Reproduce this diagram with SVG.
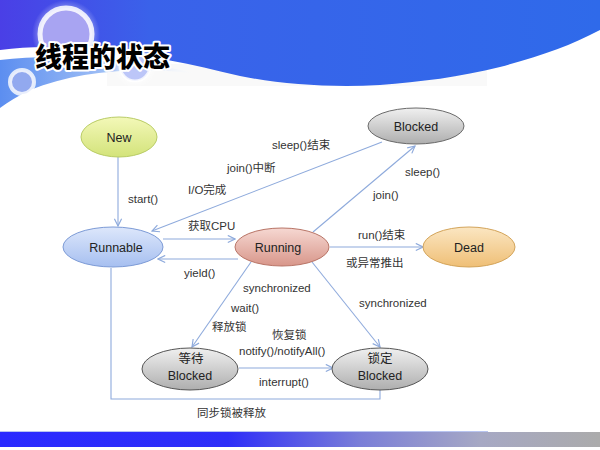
<svg xmlns="http://www.w3.org/2000/svg" width="600" height="450" viewBox="0 0 600 450">
  <defs>
    <linearGradient id="gNew" x1="0" y1="0" x2="0" y2="1">
      <stop offset="0" stop-color="#f3f8b8"/>
      <stop offset="1" stop-color="#d3e37a"/>
    </linearGradient>
    <linearGradient id="gGray" x1="0" y1="0" x2="0" y2="1">
      <stop offset="0" stop-color="#f0f0f0"/>
      <stop offset="1" stop-color="#aeaeae"/>
    </linearGradient>
    <linearGradient id="gRunnable" x1="0" y1="0" x2="0" y2="1">
      <stop offset="0" stop-color="#dde7fb"/>
      <stop offset="1" stop-color="#a6bff0"/>
    </linearGradient>
    <linearGradient id="gRunning" x1="0" y1="0" x2="0" y2="1">
      <stop offset="0" stop-color="#f6d8d2"/>
      <stop offset="1" stop-color="#d8968a"/>
    </linearGradient>
    <linearGradient id="gDead" x1="0" y1="0" x2="0" y2="1">
      <stop offset="0" stop-color="#fbe6c2"/>
      <stop offset="1" stop-color="#efbf76"/>
    </linearGradient>
    <linearGradient id="gFooter" x1="0" y1="0" x2="1" y2="0">
      <stop offset="0" stop-color="#2a2aff"/>
      <stop offset="0.38" stop-color="#2e2ef8"/>
      <stop offset="0.6" stop-color="#7a7ed8"/>
      <stop offset="0.8" stop-color="#a6a8c4"/>
      <stop offset="1" stop-color="#ababab"/>
    </linearGradient>
    <linearGradient id="gBand" x1="0" y1="0" x2="1" y2="0">
      <stop offset="0" stop-color="#4a3fe6"/>
      <stop offset="0.25" stop-color="#3a62ea"/>
      <stop offset="1" stop-color="#2f6aea"/>
    </linearGradient>
    <linearGradient id="gSwoosh" x1="0" y1="0" x2="1" y2="0">
      <stop offset="0" stop-color="#5c8ef0"/>
      <stop offset="0.6" stop-color="#a9c6f6"/>
      <stop offset="1" stop-color="#ffffff" stop-opacity="0"/>
    </linearGradient>
    <radialGradient id="gGlow">
      <stop offset="0.6" stop-color="#ffffff" stop-opacity="0.9"/>
      <stop offset="1" stop-color="#ffffff" stop-opacity="0"/>
    </radialGradient>
    <marker id="arrow" viewBox="0 0 10 10" refX="9" refY="5" markerWidth="9" markerHeight="9" markerUnits="userSpaceOnUse" orient="auto">
      <path d="M1,1 L9,5 L1,9" fill="none" stroke="#8eaadc" stroke-width="1.3"/>
    </marker>
    <style>
      .lbl { font-family: "Liberation Sans", "Noto Sans CJK SC", sans-serif; font-size: 11.5px; fill: #333; }
      .node-text { font-family: "Liberation Sans", "Noto Sans CJK SC", sans-serif; font-size: 12.5px; fill: #222; text-anchor: middle; }
      .edge { fill: none; stroke: #8eaadc; stroke-width: 1.1; }
      .title { font-family: "Noto Sans CJK SC", sans-serif; font-weight: 900; font-size: 27px; fill: #000; stroke: #ffffff; stroke-width: 4; paint-order: stroke; stroke-linejoin: round; }
    </style>
  </defs>

  <!-- page background and header artwork -->
  <rect x="0" y="0" width="600" height="450" fill="#ffffff"/>
  <rect x="107" y="64" width="380" height="22" fill="#f9f9f9"/>
  <path d="M0,0 H600 V30 C570,46 540,56 500,67 C460,77 420,82 380,85 C330,88 280,84 240,76 C190,64 150,55 100,50 C60,46 30,46 0,50 Z" fill="url(#gBand)"/>
  <path d="M0,60 C50,54 120,56 200,74 C140,66 80,70 30,90 C18,96 8,102 0,108 Z" fill="url(#gSwoosh)"/>
  <circle cx="66" cy="34" r="34" fill="url(#gGlow)" opacity="0.6"/>
  <circle cx="66" cy="34" r="26" fill="#a8a4f2" stroke="#ffffff" stroke-opacity="0.85" stroke-width="5"/>
  <circle cx="135" cy="66" r="22" fill="url(#gGlow)" opacity="0.7"/>
  <circle cx="135" cy="66" r="15" fill="#bcc6f8" stroke="#ffffff" stroke-opacity="0.8" stroke-width="3"/>
  <circle cx="22" cy="82" r="12" fill="#92a9ef" stroke="#ffffff" stroke-opacity="0.8" stroke-width="4"/>
  <text class="title" x="35" y="67">线程的状态</text>

  <!-- footer band -->
  <rect x="0" y="431" width="488" height="1" fill="#b8c4f0"/>
  <rect x="0" y="432" width="600" height="15" fill="url(#gFooter)"/>

  <!-- connectors -->
  <g id="connectors">
    <line class="edge" x1="118" y1="157" x2="118" y2="226" marker-end="url(#arrow)"/>
    <line class="edge" x1="382" y1="142" x2="152" y2="231" marker-end="url(#arrow)"/>
    <line class="edge" x1="163" y1="239" x2="235" y2="239" marker-end="url(#arrow)"/>
    <line class="edge" x1="238" y1="259" x2="158" y2="259" marker-end="url(#arrow)"/>
    <line class="edge" x1="313" y1="232" x2="415" y2="146" marker-end="url(#arrow)"/>
    <line class="edge" x1="330" y1="247" x2="423" y2="247" marker-end="url(#arrow)"/>
    <line class="edge" x1="251" y1="262" x2="192" y2="347" marker-end="url(#arrow)"/>
    <line class="edge" x1="312" y1="262" x2="380" y2="347" marker-end="url(#arrow)"/>
    <line class="edge" x1="239" y1="368" x2="333" y2="368" marker-end="url(#arrow)"/>
    <polyline class="edge" points="380,390 380,399 111,399 111,268"/>
  </g>

  <!-- connector labels -->
  <g id="labels">
    <text class="lbl" x="128" y="203">start()</text>
    <text class="lbl" x="272" y="149">sleep()结束</text>
    <text class="lbl" x="227" y="172">join()中断</text>
    <text class="lbl" x="188" y="194">I/O完成</text>
    <text class="lbl" x="188" y="230">获取CPU</text>
    <text class="lbl" x="184" y="277">yield()</text>
    <text class="lbl" x="405" y="176">sleep()</text>
    <text class="lbl" x="373" y="199">join()</text>
    <text class="lbl" x="358" y="239">run()结束</text>
    <text class="lbl" x="346" y="267">或异常推出</text>
    <text class="lbl" x="243" y="292">synchronized</text>
    <text class="lbl" x="231" y="312">wait()</text>
    <text class="lbl" x="212" y="331">释放锁</text>
    <text class="lbl" x="272" y="339">恢复锁</text>
    <text class="lbl" x="239" y="355">notify()/notifyAll()</text>
    <text class="lbl" x="359" y="307">synchronized</text>
    <text class="lbl" x="259" y="386">interrupt()</text>
    <text class="lbl" x="197" y="417">同步锁被释放</text>
  </g>

  <!-- state nodes -->
  <g id="node-new">
    <ellipse cx="119" cy="137" rx="38" ry="20" fill="url(#gNew)" stroke="#b9cc66" stroke-width="1"/>
    <text class="node-text" x="119" y="142">New</text>
  </g>
  <g id="node-blocked">
    <ellipse cx="416" cy="126" rx="48" ry="18" fill="url(#gGray)" stroke="#6a6a6a" stroke-width="1"/>
    <text class="node-text" x="416" y="131">Blocked</text>
  </g>
  <g id="node-runnable">
    <ellipse cx="113" cy="247" rx="50" ry="20" fill="url(#gRunnable)" stroke="#7d9bd6" stroke-width="1"/>
    <text class="node-text" x="116" y="252">Runnable</text>
  </g>
  <g id="node-running">
    <ellipse cx="282" cy="247" rx="47" ry="19" fill="url(#gRunning)" stroke="#b87466" stroke-width="1"/>
    <text class="node-text" x="278" y="252">Running</text>
  </g>
  <g id="node-dead">
    <ellipse cx="469" cy="247" rx="46" ry="20" fill="url(#gDead)" stroke="#d3a45a" stroke-width="1"/>
    <text class="node-text" x="469" y="252">Dead</text>
  </g>
  <g id="node-waiting">
    <ellipse cx="190" cy="369" rx="48" ry="21" fill="url(#gGray)" stroke="#555" stroke-width="1"/>
    <text class="node-text" x="191" y="363">等待</text>
    <text class="node-text" x="190" y="380">Blocked</text>
  </g>
  <g id="node-locked">
    <ellipse cx="380" cy="369" rx="48" ry="21" fill="url(#gGray)" stroke="#555" stroke-width="1"/>
    <text class="node-text" x="380" y="363">锁定</text>
    <text class="node-text" x="380" y="380">Blocked</text>
  </g>
</svg>
